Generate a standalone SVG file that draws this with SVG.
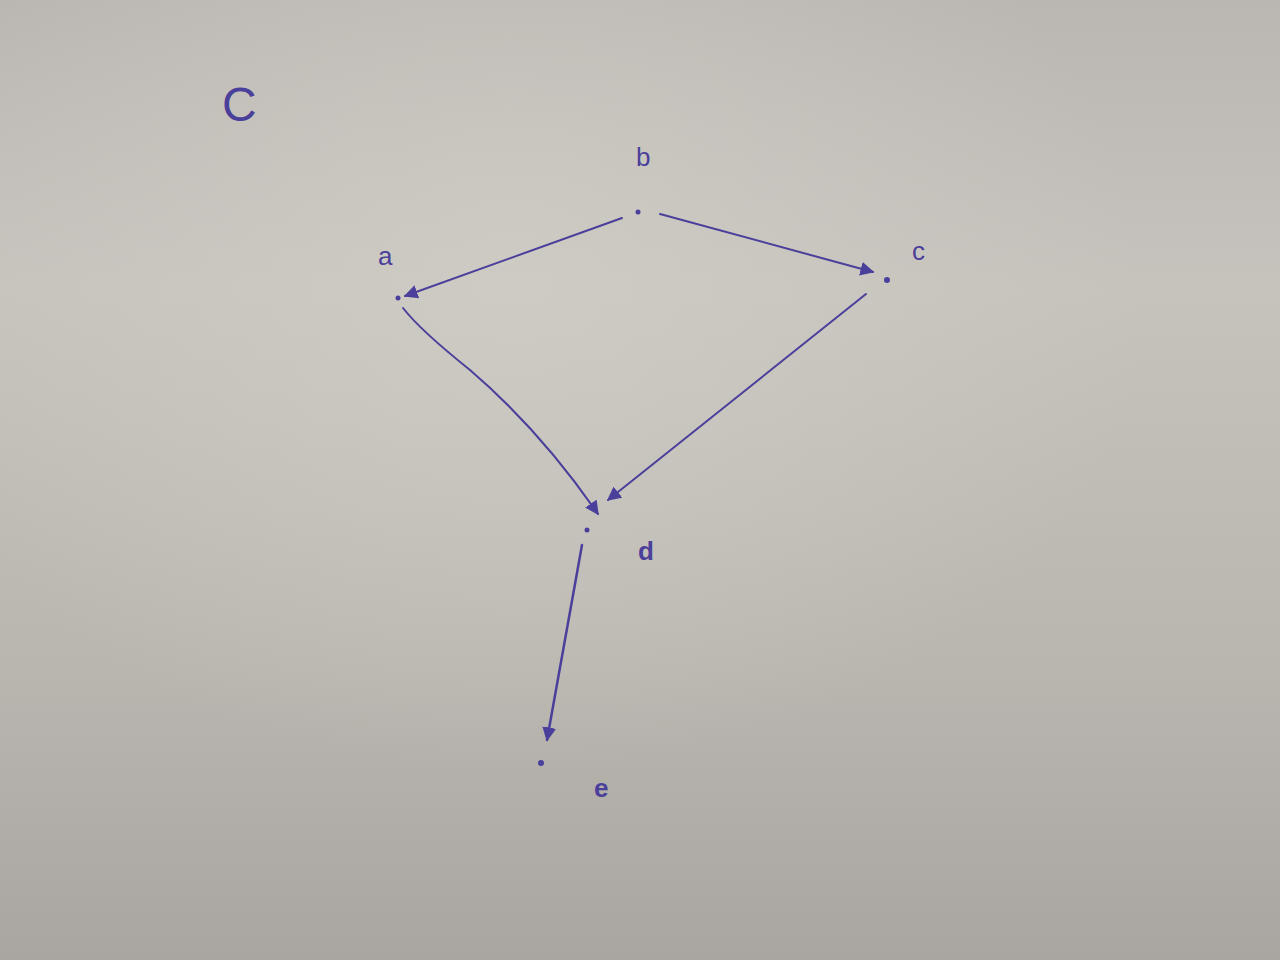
<svg xmlns="http://www.w3.org/2000/svg" width="1280" height="960" viewBox="0 0 1280 960">
<defs>
<linearGradient id="bg" x1="0" y1="0" x2="0" y2="1">
<stop offset="0" stop-color="#bab7b2"/>
<stop offset="0.3" stop-color="#c6c3bd"/>
<stop offset="0.7" stop-color="#b9b6b0"/>
<stop offset="1" stop-color="#a9a6a1"/>
</linearGradient>
<radialGradient id="hl" cx="0.4" cy="0.3" r="0.5">
<stop offset="0" stop-color="#d0cdc6" stop-opacity="0.8"/>
<stop offset="1" stop-color="#d0cdc6" stop-opacity="0"/>
</radialGradient>
<marker id="arr" viewBox="0 0 10 10" refX="9" refY="5" markerWidth="14" markerHeight="14" markerUnits="userSpaceOnUse" orient="auto">
<path d="M0,0 L10,5 L0,10 z" fill="#4a3f9a"/>
</marker>
<style>
.edge{fill:none;stroke:#4a3f9a;stroke-width:2;stroke-linecap:round}
.dot{fill:#4a3f9a}
.lbl{font-family:"Liberation Sans",sans-serif;fill:#4a3f9a;font-size:26px}
</style>
</defs>
<rect width="1280" height="960" fill="url(#bg)"/>
<rect width="1280" height="960" fill="url(#hl)"/>
<text class="lbl" x="222" y="121" style="font-size:48px">C</text>
<g id="connectors">
<path class="edge" d="M622,218 L405,296" marker-end="url(#arr)"/>
<path class="edge" d="M660,214 L873,272" marker-end="url(#arr)"/>
<path class="edge" d="M403,308 Q420,330 470,370 Q540,430 598,514" marker-end="url(#arr)"/>
<path class="edge" d="M866,294 L608,500" marker-end="url(#arr)"/>
<path class="edge" d="M582,545 L547,740" marker-end="url(#arr)" style="stroke-width:2.5"/>
</g>
<g id="node-b"><circle class="dot" cx="638" cy="212" r="2.5"/><text class="lbl" x="636" y="166">b</text></g>
<g id="node-a"><circle class="dot" cx="398" cy="298" r="2.5"/><text class="lbl" x="378" y="265">a</text></g>
<g id="node-c"><circle class="dot" cx="887" cy="280" r="3"/><text class="lbl" x="912" y="260">c</text></g>
<g id="node-d"><circle class="dot" cx="587" cy="530" r="2.5"/><text class="lbl" x="638" y="560" style="font-weight:bold">d</text></g>
<g id="node-e"><circle class="dot" cx="541" cy="763" r="3"/><text class="lbl" x="594" y="797" style="font-weight:bold">e</text></g>
</svg>
